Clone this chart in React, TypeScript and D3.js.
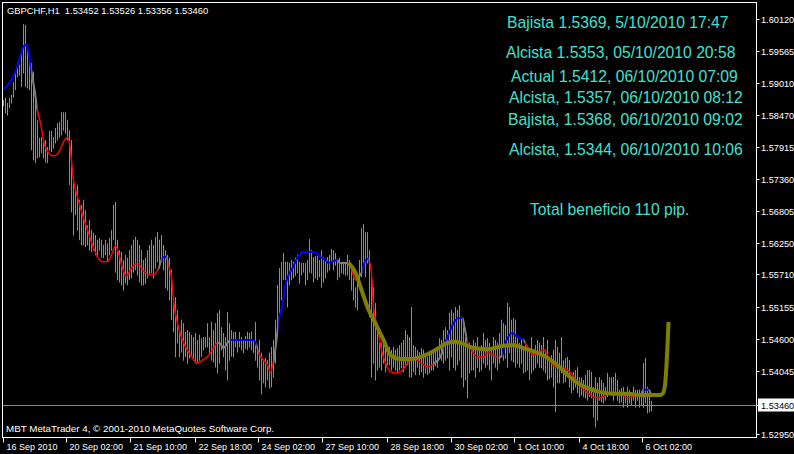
import React from "react";
import * as d3 from "d3";

// ---- data (GBPCHF H1) ----
const highs = [
1.5872,1.5876,1.5867,1.5876,1.5881,1.5903,1.5921,1.5938,1.5933,1.5959,
1.6003,1.6002,1.5959,1.5953,1.5936,1.5921,1.5872,1.5838,1.5807,1.5808,
1.5803,1.5803,1.5791,1.5819,1.5819,1.5808,1.5824,1.5832,1.5834,1.5851,
1.5851,1.5851,1.5838,1.5820,1.5803,1.5734,1.5717,1.5726,1.5700,1.5691,
1.5700,1.5682,1.5656,1.5665,1.5648,1.5643,1.5639,1.5631,1.5634,1.5631,
1.5622,1.5631,1.5625,1.5634,1.5648,1.5691,1.5696,1.5631,1.5613,1.5610,
1.5596,1.5605,1.5600,1.5613,1.5622,1.5631,1.5636,1.5631,1.5622,1.5613,
1.5596,1.5600,1.5613,1.5622,1.5631,1.5622,1.5636,1.5644,1.5631,1.5639,
1.5622,1.5613,1.5605,1.5600,1.5579,1.5527,1.5532,1.5510,1.5475,1.5493,
1.5487,1.5472,1.5475,1.5472,1.5467,1.5463,1.5470,1.5458,1.5467,1.5461,
1.5463,1.5463,1.5487,1.5463,1.5489,1.5475,1.5487,1.5505,1.5510,1.5480,
1.5470,1.5463,1.5506,1.5487,1.5475,1.5472,1.5472,1.5458,1.5472,1.5463,
1.5458,1.5465,1.5472,1.5470,1.5472,1.5458,1.5489,1.5446,1.5458,1.5436,
1.5423,1.5427,1.5423,1.5436,1.5446,1.5458,1.5493,1.5553,1.5582,1.5593,
1.5608,1.5593,1.5593,1.5591,1.5596,1.5593,1.5600,1.5605,1.5593,1.5591,
1.5591,1.5591,1.5596,1.5632,1.5613,1.5601,1.5603,1.5605,1.5596,1.5613,
1.5601,1.5596,1.5601,1.5605,1.5615,1.5613,1.5608,1.5596,1.5600,1.5591,
1.5593,1.5593,1.5605,1.5596,1.5584,1.5579,1.5549,1.5565,1.5596,1.5651,
1.5658,1.5644,1.5644,1.5613,1.5567,1.5549,1.5522,1.5487,1.5453,1.5453,
1.5458,1.5444,1.5446,1.5446,1.5441,1.5446,1.5441,1.5444,1.5449,1.5453,
1.5458,1.5475,1.5467,1.5463,1.5515,1.5449,1.5446,1.5441,1.5437,1.5444,
1.5441,1.5432,1.5429,1.5436,1.5437,1.5441,1.5444,1.5441,1.5461,1.5458,
1.5475,1.5480,1.5475,1.5505,1.5510,1.5505,1.5515,1.5510,1.5518,1.5498,
1.5480,1.5463,1.5446,1.5453,1.5449,1.5458,1.5453,1.5463,1.5446,1.5449,
1.5470,1.5458,1.5461,1.5453,1.5441,1.5463,1.5458,1.5453,1.5470,1.5493,
1.5487,1.5484,1.5522,1.5515,1.5493,1.5496,1.5493,1.5463,1.5453,1.5458,
1.5446,1.5449,1.5446,1.5441,1.5463,1.5441,1.5449,1.5458,1.5453,1.5449,
1.5463,1.5441,1.5458,1.5427,1.5432,1.5441,1.5458,1.5446,1.5436,1.5463,
1.5423,1.5427,1.5429,1.5423,1.5394,1.5403,1.5406,1.5411,1.5394,1.5393,
1.5389,1.5398,1.5406,1.5406,1.5403,1.5377,1.5394,1.5384,1.5394,1.5389,
1.5384,1.5377,1.5401,1.5394,1.5393,1.5394,1.5401,1.5389,1.5372,1.5375,
1.5377,1.5367,1.5377,1.5372,1.5368,1.5377,1.5372,1.5372,1.5372,1.5368,
1.5418,1.5427,1.5377,1.5367,1.5353
];
const lows = [
1.5862,1.5850,1.5846,1.5859,1.5867,1.5877,1.5890,1.5912,1.5915,1.5895,
1.5919,1.5895,1.5893,1.5890,1.5786,1.5769,1.5764,1.5772,1.5774,1.5781,
1.5772,1.5765,1.5764,1.5786,1.5783,1.5789,1.5798,1.5803,1.5808,1.5812,
1.5820,1.5815,1.5803,1.5726,1.5679,1.5639,1.5674,1.5648,1.5631,1.5622,
1.5622,1.5619,1.5622,1.5613,1.5610,1.5613,1.5605,1.5605,1.5613,1.5601,
1.5600,1.5605,1.5593,1.5605,1.5613,1.5631,1.5575,1.5562,1.5558,1.5553,
1.5544,1.5556,1.5553,1.5562,1.5565,1.5575,1.5579,1.5570,1.5558,1.5553,
1.5553,1.5556,1.5565,1.5570,1.5574,1.5565,1.5582,1.5593,1.5582,1.5593,
1.5579,1.5548,1.5544,1.5527,1.5493,1.5472,1.5429,1.5453,1.5429,1.5437,
1.5423,1.5429,1.5418,1.5427,1.5432,1.5423,1.5418,1.5420,1.5423,1.5430,
1.5441,1.5446,1.5446,1.5436,1.5423,1.5420,1.5411,1.5401,1.5418,1.5441,
1.5429,1.5406,1.5389,1.5423,1.5430,1.5429,1.5446,1.5437,1.5446,1.5441,
1.5436,1.5443,1.5441,1.5446,1.5441,1.5436,1.5423,1.5411,1.5389,1.5365,
1.5384,1.5377,1.5389,1.5375,1.5377,1.5394,1.5418,1.5467,1.5493,1.5527,
1.5562,1.5562,1.5515,1.5553,1.5562,1.5565,1.5569,1.5574,1.5556,1.5570,
1.5575,1.5553,1.5562,1.5575,1.5574,1.5558,1.5565,1.5562,1.5567,1.5549,
1.5558,1.5565,1.5575,1.5579,1.5593,1.5579,1.5587,1.5562,1.5567,1.5574,
1.5572,1.5570,1.5570,1.5562,1.5544,1.5527,1.5515,1.5510,1.5556,1.5567,
1.5591,1.5567,1.5591,1.5498,1.5394,1.5418,1.5389,1.5406,1.5411,1.5406,
1.5418,1.5403,1.5415,1.5415,1.5406,1.5411,1.5406,1.5403,1.5406,1.5410,
1.5403,1.5411,1.5415,1.5394,1.5394,1.5403,1.5398,1.5411,1.5398,1.5403,
1.5394,1.5401,1.5398,1.5401,1.5406,1.5406,1.5413,1.5411,1.5427,1.5423,
1.5418,1.5423,1.5427,1.5406,1.5429,1.5411,1.5406,1.5415,1.5423,1.5394,
1.5377,1.5389,1.5358,1.5401,1.5406,1.5406,1.5394,1.5411,1.5403,1.5406,
1.5418,1.5411,1.5415,1.5406,1.5389,1.5418,1.5411,1.5406,1.5418,1.5429,
1.5423,1.5427,1.5411,1.5436,1.5423,1.5420,1.5411,1.5418,1.5411,1.5418,
1.5401,1.5403,1.5406,1.5389,1.5401,1.5406,1.5410,1.5418,1.5411,1.5410,
1.5406,1.5401,1.5389,1.5391,1.5394,1.5377,1.5334,1.5384,1.5384,1.5401,
1.5384,1.5386,1.5394,1.5377,1.5367,1.5372,1.5377,1.5367,1.5360,1.5363,
1.5360,1.5358,1.5354,1.5360,1.5358,1.5325,1.5308,1.5320,1.5354,1.5351,
1.5349,1.5354,1.5360,1.5367,1.5363,1.5354,1.5367,1.5354,1.5349,1.5351,
1.5342,1.5349,1.5342,1.5349,1.5346,1.5354,1.5342,1.5354,1.5342,1.5346,
1.5342,1.5349,1.5332,1.5334,1.5336
];

// moving average (bar index, price, colour of the stretch that starts there)
const maIdx = [0,2.5,4.5,6,7.5,9,10,11.5,12.5,14,15.5,17,18.5,20.5,22,24.5,26.5,28.5,30.5,32,33,35,37,39.5,42,44.5,47,49.5,52,54,56,57.5,59.5,61.5,63.5,66,67.5,69.5,72,75,76.5,77.5,79,80,81.5,82.5,84,85,87.5,91,94,97,99.5,102,105,107,108.5,110,112,113.5,118.5,125,126.5,127.5,130,132,133.5,135,136.5,137.5,139.5,141,142.5,144.5,147.5,150,155,158.5,161,162.5,165,167,168,172,173.5,176,177.5,179.5,181,182.5,183,184,185,186,187,189,191,193.5,196,198.5,202,204.5,207,209.5,212,215,218.5,220,222,225,227.5,229.5,230.5,232,233.5,237,240,242,245,247.5,249.5,251,254.5,257,260,261,263.5,265,267.5,270,272.5,276,278.5,282,284.5,288.5,292,297,300,303.5,308.5,312,315,318.5,320,322.5,323.5,324];
const maVal = [1.5890,1.5900,1.5910,1.5921,1.5938,1.5955,1.5965,1.5967,1.5955,1.5921,1.5890,1.5855,1.5832,1.5795,1.5784,1.5776,1.5777,1.5788,1.5803,1.5808,1.5798,1.5734,1.5705,1.5674,1.5648,1.5622,1.5601,1.5593,1.5593,1.5605,1.5620,1.5608,1.5582,1.5568,1.5579,1.5589,1.5589,1.5579,1.5572,1.5570,1.5575,1.5582,1.5596,1.5601,1.5601,1.5587,1.5567,1.5527,1.5480,1.5446,1.5429,1.5418,1.5423,1.5429,1.5444,1.5453,1.5451,1.5444,1.5453,1.5458,1.5458,1.5458,1.5449,1.5437,1.5423,1.5415,1.5403,1.5420,1.5458,1.5489,1.5518,1.5553,1.5570,1.5582,1.5603,1.5610,1.5610,1.5601,1.5596,1.5591,1.5594,1.5596,1.5591,1.5591,1.5586,1.5562,1.5567,1.5577,1.5596,1.5598,1.5593,1.5574,1.5515,1.5493,1.5480,1.5441,1.5418,1.5403,1.5401,1.5403,1.5418,1.5427,1.5423,1.5417,1.5411,1.5417,1.5429,1.5444,1.5463,1.5487,1.5496,1.5496,1.5480,1.5454,1.5444,1.5429,1.5429,1.5436,1.5432,1.5427,1.5432,1.5453,1.5470,1.5463,1.5458,1.5453,1.5437,1.5432,1.5436,1.5441,1.5429,1.5411,1.5411,1.5406,1.5398,1.5377,1.5367,1.5358,1.5360,1.5367,1.5365,1.5358,1.5361,1.5363,1.5372,1.5372,1.5367,1.5365];
const maCol = ["b","b","b","b","b","b","b","b","b","g","g","r","r","r","r","r","r","r","r","r","r","r","r","r","r","r","r","r","r","r","r","r","r","r","r","r","r","r","r","r","r","g","b","b","g","r","r","r","r","r","r","r","r","r","r","g","g","g","g","b","b","b","g","r","r","r","r","g","g","b","b","b","b","b","b","b","b","b","b","b","b","g","g","r","r","g","g","b","b","g","r","r","r","r","r","r","r","r","r","r","r","r","r","r","r","g","g","b","b","b","b","g","g","r","r","r","r","r","r","g","b","b","b","b","g","r","r","r","r","r","r","r","r","r","r","r","r","r","r","r","r","r","r","g","b","g","g","g"];

// projected trend line (olive)
const trendIdx = [172.5,176,179.5,182.5,185,190,193.5,198.5,203.5,207,213.5,218.5,222,226,228.5,235,242,250,255,260,267,272,278.5,282,287,292,298.5,305,312,318.5,328.5,330,331,331.5,332,332.5];
const trendVal = [1.5591,1.5574,1.5539,1.5510,1.5493,1.5458,1.5432,1.5425,1.5425,1.5427,1.5436,1.5446,1.5453,1.5455,1.5453,1.5444,1.5442,1.5448,1.5449,1.5444,1.5436,1.5427,1.5410,1.5398,1.5384,1.5375,1.5368,1.5365,1.5365,1.5363,1.5363,1.5368,1.5389,1.5415,1.5449,1.5489];

const priceTicks = ["1.60120","1.59565","1.59010","1.58470","1.57915","1.57360","1.56805","1.56250","1.55710","1.55155","1.54600","1.54045","1.52950"];
const bidPrice = "1.53460";
const timeTickIdx = [0,32,64,96,128,160,192,224,256,288,320];
const timeTickLabels = ["16 Sep 2010","20 Sep 02:00","21 Sep 10:00","22 Sep 18:00","24 Sep 02:00","27 Sep 10:00","28 Sep 18:00","30 Sep 02:00","1 Oct 10:00","4 Oct 18:00","6 Oct 02:00"];
const notes = [
  "Bajista 1.5369, 5/10/2010 17:47",
  "Alcista 1.5353, 05/10/2010 20:58",
  "Actual 1.5412, 06/10/2010 07:09",
  "Alcista, 1.5357, 06/10/2010 08:12",
  "Bajista, 1.5368, 06/10/2010 09:02",
  "Alcista, 1.5344, 06/10/2010 10:06",
  "Total beneficio 110 pip."
];
const headerText = "GBPCHF,H1  1.53452 1.53526 1.53356 1.53460";
const footerText = "MBT MetaTrader 4, \u00A9 2001-2010 MetaQuotes Software Corp.";

// ---- layout ----
const W = 794, H = 454;
const FL = 2.5, FT = 2.5, FR = 756.5, FB = 437.5;
const notePos: [number, number][] = [[507, 28.3], [506, 58.3], [511, 81.5], [509, 103.3], [508, 124.5], [509, 155], [530, 215]];
const COLORS: Record<string, string> = { b: "#0000FF", r: "#FF0000", g: "#808080" };
const WIDTHS: Record<string, number> = { b: 2, r: 1.5, g: 2 };
const FONT = "'Liberation Sans', Arial, sans-serif";

export default function App() {
  const x = d3.scaleLinear().domain([0, 324]).range([3.5, 651.5]);
  const y = d3.scaleLinear().domain([1.52905, 1.60413]).range([437, 2]);

  const maLine = d3.line<number>()
    .x((k) => x(maIdx[k]))
    .y((k) => y(maVal[k]))
    .curve(d3.curveMonotoneX);
  const maPath = maLine(d3.range(maIdx.length)) || "";

  // colour runs -> clip rectangles
  const runs: { c: string; a: number; b: number }[] = [];
  for (let k = 0; k < maIdx.length - 1; k++) {
    const c = maCol[k];
    if (runs.length && runs[runs.length - 1].c === c) runs[runs.length - 1].b = k + 1;
    else runs.push({ c, a: k, b: k + 1 });
  }

  const trendLine = d3.line<number>()
    .x((k) => x(trendIdx[k]))
    .y((k) => y(trendVal[k]))
    .curve(d3.curveMonotoneX);
  const trendPath = trendLine(d3.range(trendIdx.length)) || "";

  const bidY = Math.round(y(+bidPrice)) + 0.5;

  return (
    <svg width={W} height={H} style={{ position: "absolute", left: 0, top: 0, display: "block", background: "#000" }}>
      <rect x={0} y={0} width={W} height={H} fill="#000" />
      <defs>
        {runs.map((r, i) => (
          <clipPath id={`run${i}`} key={i}>
            <rect x={x(maIdx[r.a])} y={0} width={Math.max(0.1, x(maIdx[r.b]) - x(maIdx[r.a]))} height={H} />
          </clipPath>
        ))}
      </defs>

      {/* bid line */}
      <line x1={FL} x2={FR} y1={bidY} y2={bidY} stroke="#778899" strokeWidth={1} />

      {/* bars */}
      <g stroke="#32CD32" strokeWidth={1}>
        {highs.map((h, i) => (
          <line key={i} x1={x(i)} x2={x(i)} y1={y(h)} y2={y(lows[i]) + 0.5} />
        ))}
      </g>

      {/* moving average */}
      {runs.map((r, i) => (
        <path key={i} d={maPath} fill="none" stroke={COLORS[r.c]} strokeWidth={WIDTHS[r.c]} clipPath={`url(#run${i})`} />
      ))}

      {/* olive trend */}
      <path d={trendPath} fill="none" stroke="#808000" strokeWidth={4} strokeLinejoin="round" />

      {/* frame */}
      <rect x={FL} y={FT} width={FR - FL} height={FB - FT} fill="none" stroke="#FFFFFF" strokeWidth={1} />

      {/* price axis */}
      <g fontFamily={FONT} fontSize={9.2} fill="#FFFFFF">
        {priceTicks.map((t) => {
          const ty = Math.round(y(+t)) + 0.5;
          return (
            <g key={t}>
              <line x1={FR} x2={FR + 3} y1={ty} y2={ty} stroke="#FFFFFF" />
              <text x={761} y={ty + 3.5}>{t}</text>
            </g>
          );
        })}
        <rect x={758} y={bidY - 7} width={36} height={13} fill="#FFFFFF" />
        <line x1={FR} x2={FR + 3} y1={bidY} y2={bidY} stroke="#FFFFFF" />
        <text x={761} y={bidY + 3.5} fill="#000000">{bidPrice}</text>
      </g>

      {/* time axis */}
      <g fontFamily={FONT} fontSize={9} fill="#FFFFFF">
        {timeTickIdx.map((t, i) => {
          const tx = Math.round(x(t)) - 0.5;
          return (
            <g key={t}>
              <line x1={tx} x2={tx} y1={FB} y2={FB + 5} stroke="#FFFFFF" />
              <text x={tx + 3} y={449.5}>{timeTickLabels[i]}</text>
            </g>
          );
        })}
      </g>

      {/* header & footer */}
      <text x={7} y={14} fontFamily={FONT} fontSize={9.4} fill="#FFFFFF" style={{ whiteSpace: "pre" }}>{headerText}</text>
      <text x={6} y={431.5} fontFamily={FONT} fontSize={9.8} fill="#FFFFFF">{footerText}</text>

      {/* annotations */}
      <g fontFamily={FONT} fontSize={15.7} fill="#40E0D0">
        {notes.map((n, i) => (
          <text key={i} x={notePos[i][0]} y={notePos[i][1]}>{n}</text>
        ))}
      </g>
    </svg>
  );
}
